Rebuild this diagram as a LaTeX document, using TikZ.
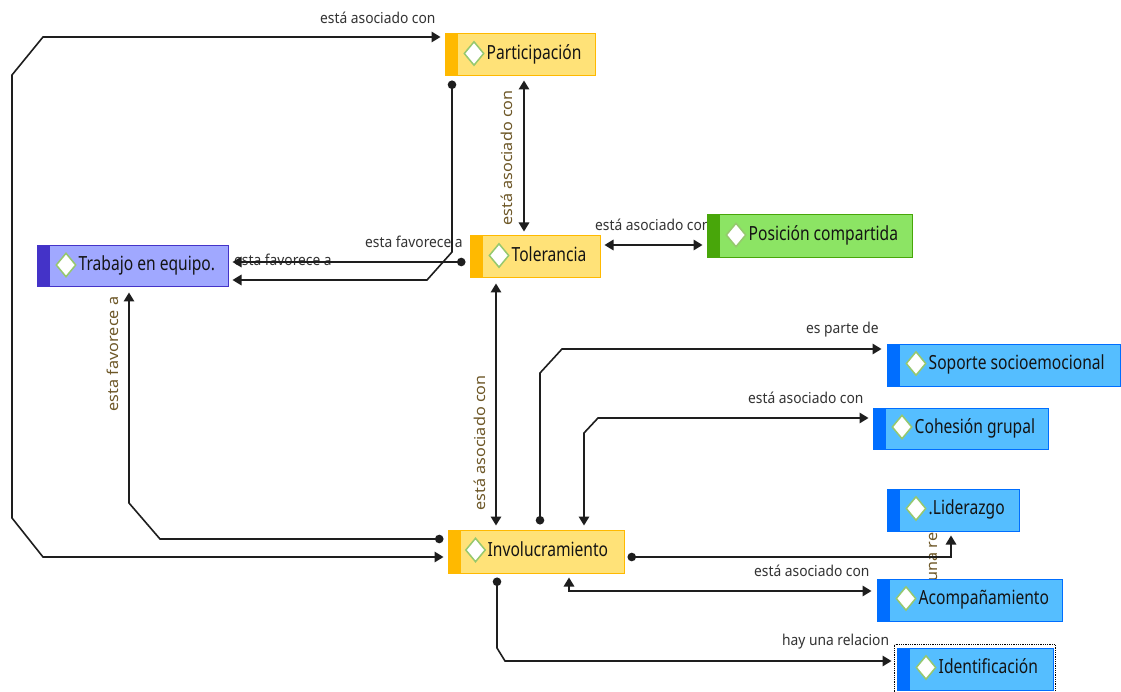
\documentclass[tikz,border=0pt]{standalone}
\usepackage{fontspec}
\setmainfont{Noto Sans}
\newfontfamily\nodefont[FakeStretch=0.8]{Noto Sans}
\newfontfamily\labfont[FakeStretch=0.92]{Noto Sans}
\newfontfamily\rotfont[FakeStretch=1.08]{Noto Sans}
\usetikzlibrary{arrows.meta,shapes.geometric}
\definecolor{orS}{RGB}{255,185,0}
\definecolor{orF}{RGB}{255,226,120}
\definecolor{blS}{RGB}{0,110,255}
\definecolor{blF}{RGB}{85,190,255}
\definecolor{grS}{RGB}{72,166,10}
\definecolor{grF}{RGB}{140,228,100}
\definecolor{puS}{RGB}{68,51,200}
\definecolor{puF}{RGB}{160,168,255}
\definecolor{dmk}{RGB}{150,200,110}
\definecolor{lnc}{RGB}{30,30,30}
\definecolor{labc}{RGB}{51,51,51}
\definecolor{rlabc}{RGB}{110,88,40}
\tikzset{
  conc/.style 2 args={draw=#1, fill=#2, line width=1pt, inner sep=0pt,
    path picture={\fill[#1] (path picture bounding box.north west) rectangle ([xshift=13pt]path picture bounding box.south west);}},
  dmark/.style={diamond, draw=dmk, fill=white, line width=1.5pt, inner sep=0pt, minimum width=20pt, minimum height=24pt},
  ctext/.style={anchor=base west, inner sep=0pt, text={rgb,255:red,20;green,20;blue,20}, font=\nodefont\fontsize{19.5}{22}\selectfont},
  hlab/.style={anchor=base west, inner sep=0pt, text=labc, font=\labfont\fontsize{15}{18}\selectfont},
  rlab/.style={anchor=center, inner sep=0pt, rotate=90, text=rlabc, font=\rotfont\fontsize{15}{18}\selectfont},
  conn/.style={draw=lnc, line width=1.6pt, line join=miter},
  atri/.tip={Triangle[length=9pt,width=10.5pt]},
  adot/.tip={Circle[length=8.5pt]},
}
\begin{document}
\begin{tikzpicture}[x=1pt,y=-1pt]
\useasboundingbox (0,0) rectangle (1121,692);
\fill[white] (0,0) rectangle (1121,692);

% connector labels
\node[hlab] (l1) at (320,24) {está asociado con};
\node[hlab] (l2) at (365,248) {esta favorece a};
\node[hlab] (l3) at (234,266) {esta favorece a};
\node[rlab] (l4) at (507,158) {está asociado con};
\node[hlab] (l5) at (595,231) {está asociado con};
\node[rlab] (l6) at (480,443) {está asociado con};
\node[rlab] (l7) at (113,354) {esta favorece a};
\node[hlab] (l8) at (806,334) {es parte de};
\node[hlab] (l9) at (748,403) {está asociado con};
\node[rlab] (l10) at (933,557) {una re};
\node[hlab] (l11) at (754,576) {está asociado con};
\node[hlab] (l12) at (782,645) {hay una relacion};

% concept boxes
\node[conc={orS}{orF}, minimum width=150pt, minimum height=42pt] (part) at (520,55) {};
\node[dmark] (part-d) at ([xshift=29.5pt,yshift=1.5pt]part.west) {};
\node[ctext] (part-t) at ([xshift=42pt,yshift=-4.5pt]part.west) {Participación};

\node[conc={orS}{orF}, minimum width=130pt, minimum height=42pt] (tol) at (535,257) {};
\node[dmark] (tol-d) at ([xshift=29.5pt,yshift=1.5pt]tol.west) {};
\node[ctext] (tol-t) at ([xshift=42pt,yshift=-4.5pt]tol.west) {Tolerancia};

\node[conc={grS}{grF}, minimum width=205pt, minimum height=43pt] (pos) at (809.5,236.5) {};
\node[dmark] (pos-d) at ([xshift=29.5pt,yshift=1.5pt]pos.west) {};
\node[ctext] (pos-t) at ([xshift=42pt,yshift=-4.5pt]pos.west) {Posición compartida};

\node[conc={puS}{puF}, minimum width=191pt, minimum height=41pt] (trab) at (132.5,266.5) {};
\node[dmark] (trab-d) at ([xshift=29.5pt,yshift=1.5pt]trab.west) {};
\node[ctext] (trab-t) at ([xshift=42pt,yshift=-4.5pt]trab.west) {Trabajo en equipo.};

\node[conc={orS}{orF}, minimum width=176pt, minimum height=43pt] (inv) at (536,551.5) {};
\node[dmark] (inv-d) at ([xshift=28pt,yshift=1.5pt]inv.west) {};
\node[ctext] (inv-t) at ([xshift=40pt,yshift=-4.5pt]inv.west) {Involucramiento};

\node[conc={blS}{blF}, minimum width=233pt, minimum height=42pt] (sop) at (1003.5,365) {};
\node[dmark] (sop-d) at ([xshift=29.5pt,yshift=1.5pt]sop.west) {};
\node[ctext] (sop-t) at ([xshift=42pt,yshift=-4.5pt]sop.west) {Soporte socioemocional};

\node[conc={blS}{blF}, minimum width=175pt, minimum height=41pt] (coh) at (960.5,428.5) {};
\node[dmark] (coh-d) at ([xshift=29.5pt,yshift=1.5pt]coh.west) {};
\node[ctext] (coh-t) at ([xshift=42pt,yshift=-4.5pt]coh.west) {Cohesión grupal};

\node[conc={blS}{blF}, minimum width=132pt, minimum height=42pt] (lid) at (953,510) {};
\node[dmark] (lid-d) at ([xshift=29.5pt,yshift=1.5pt]lid.west) {};
\node[ctext] (lid-t) at ([xshift=42pt,yshift=-4.5pt]lid.west) {.Liderazgo};

\node[conc={blS}{blF}, minimum width=185pt, minimum height=42pt] (aco) at (969.5,600) {};
\node[dmark] (aco-d) at ([xshift=29.5pt,yshift=1.5pt]aco.west) {};
\node[ctext] (aco-t) at ([xshift=42pt,yshift=-4.5pt]aco.west) {Acompañamiento};

\node[conc={blS}{blF}, minimum width=156pt, minimum height=42pt] (ide) at (975,669) {};
\node[dmark] (ide-d) at ([xshift=29.5pt,yshift=1.5pt]ide.west) {};
\node[ctext] (ide-t) at ([xshift=42pt,yshift=-4.5pt]ide.west) {Identificación};
\draw[black, line width=0.8pt, densely dotted] (894.5,644.5) rectangle (1055.5,695);

% connectors
\draw[conn, {atri}-{atri}, shorten <=4pt, shorten >=4pt]
  (inv.west |- 0,557) -- (43,557) -- (12,518) -- (12,75) -- (43,37) -- (part.west |- 0,37);
\draw[conn, {adot}-{atri}, shorten <=4pt, shorten >=4pt]
  (part.south -| 452,0) -- (452,252) -- (427,280) -- (trab.east |- 0,280);
\draw[conn, {adot}-{atri}, shorten <=4pt, shorten >=4pt]
  (tol.west |- 0,262) -- (trab.east |- 0,262);
\draw[conn, {atri}-{atri}, shorten <=4pt, shorten >=4pt]
  (part.south -| 524,0) -- (tol.north -| 524,0);
\draw[conn, {atri}-{atri}, shorten <=4pt, shorten >=4pt]
  (tol.east |- 0,245) -- (pos.west |- 0,245);
\draw[conn, {atri}-{atri}, shorten <=5pt, shorten >=4pt]
  (tol.south -| 496,0) -- (inv.north -| 496,0);
\draw[conn, {adot}-{atri}, shorten <=4pt, shorten >=5pt]
  (inv.west |- 0,539) -- (160,539) -- (129,503) -- (trab.south -| 129,0);
\draw[conn, {adot}-{atri}, shorten <=5pt, shorten >=5pt]
  (inv.north -| 540,0) -- (540,373) -- (562,349) -- (sop.west |- 0,349);
\draw[conn, {atri}-{atri}, shorten <=4pt, shorten >=4pt]
  (inv.north -| 584,0) -- (584,433) -- (598,418) -- (coh.west |- 0,418);
\draw[conn, {adot}-{atri}, shorten <=3pt, shorten >=4pt]
  (inv.east |- 0,557) -- (951,557) -- (lid.south -| 951,0);
\draw[conn, {atri}-{atri}, shorten <=4pt, shorten >=5pt]
  (inv.south -| 569,0) -- (569,591) -- (aco.west |- 0,591);
\draw[conn, {adot}-{atri}, shorten <=4pt, shorten >=5pt]
  (inv.south -| 497,0) -- (497,648) -- (505,661) -- (ide.west |- 0,661);
\end{tikzpicture}
\end{document}
